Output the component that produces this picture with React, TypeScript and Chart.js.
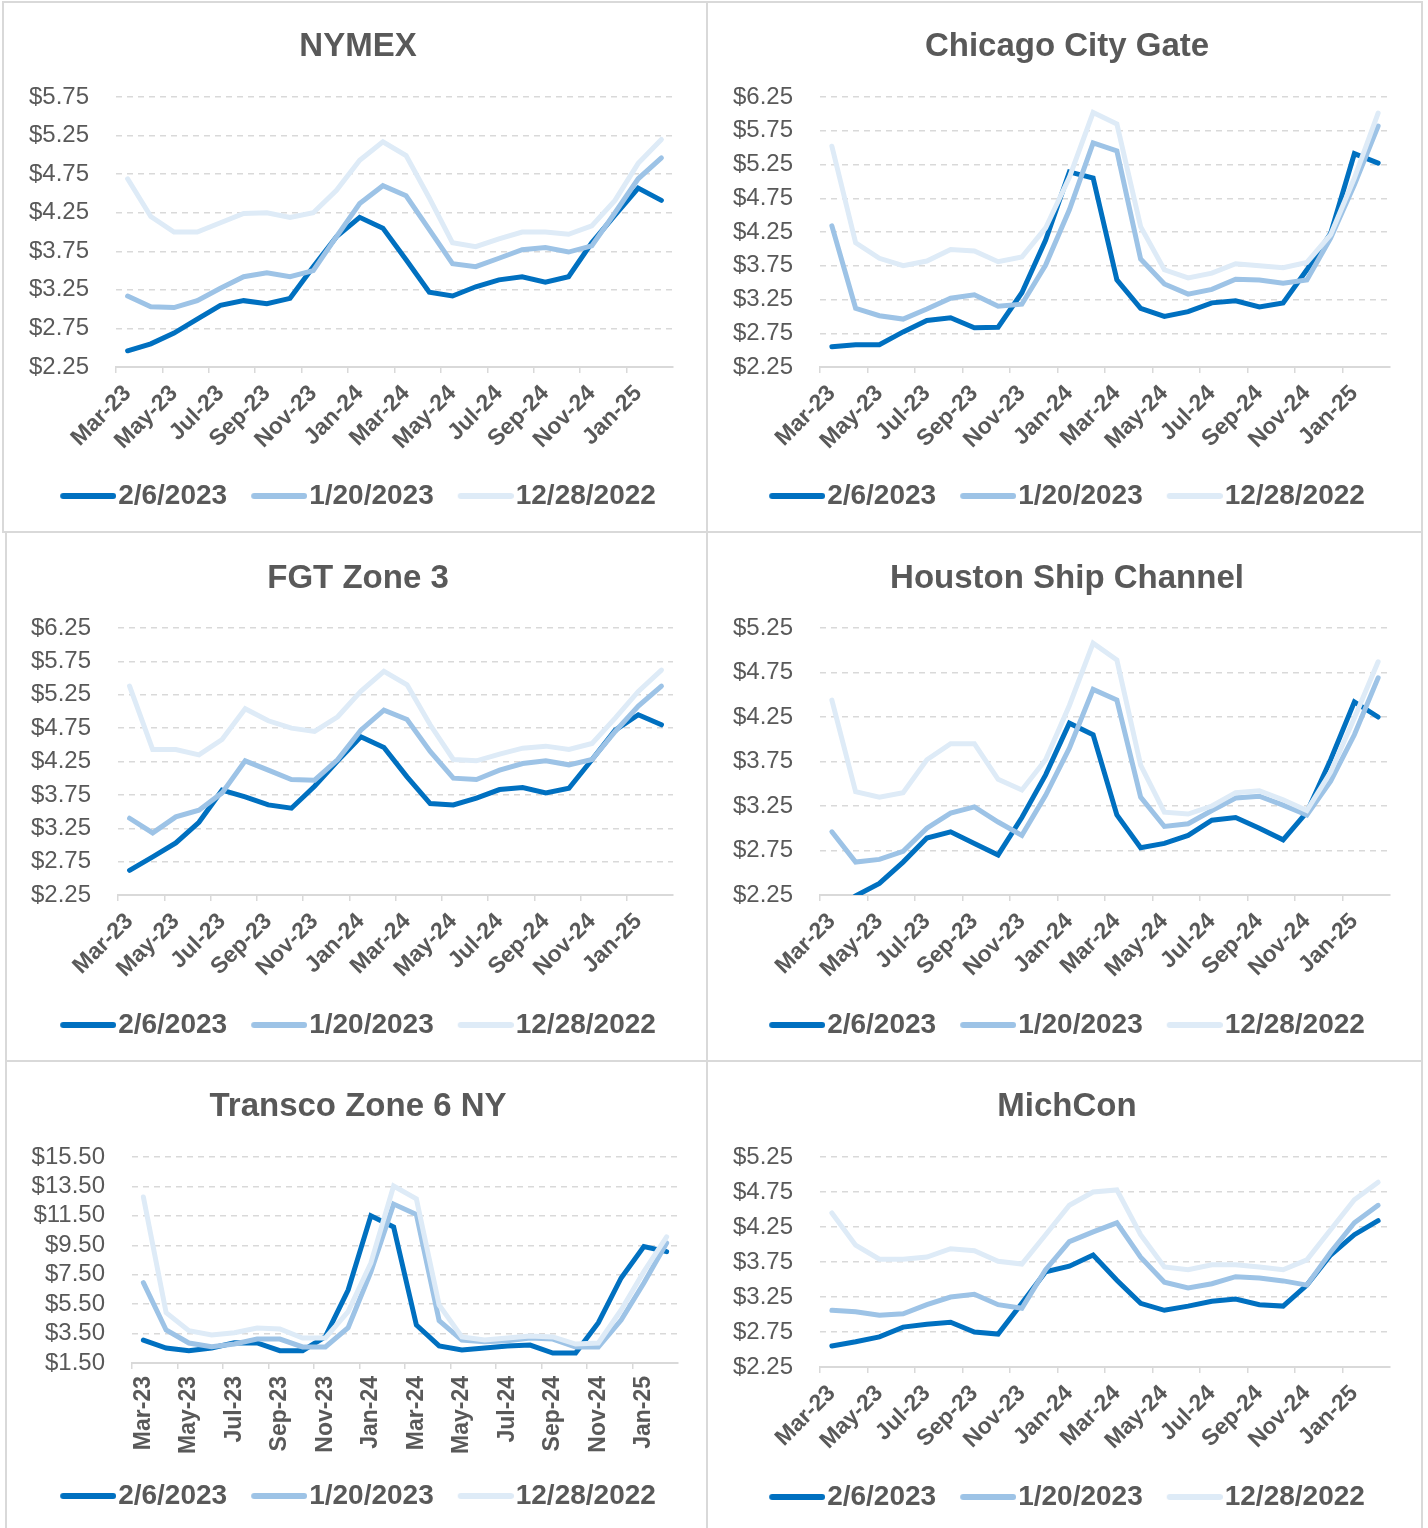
import React, { useEffect, useRef } from 'react';
import { Chart, registerables } from 'chart.js';

Chart.register(...registerables);

// ---------- data ----------
const months = [
  'Mar-23', 'Apr-23', 'May-23', 'Jun-23', 'Jul-23', 'Aug-23', 'Sep-23', 'Oct-23', 'Nov-23', 'Dec-23', 'Jan-24', 'Feb-24',
  'Mar-24', 'Apr-24', 'May-24', 'Jun-24', 'Jul-24', 'Aug-24', 'Sep-24', 'Oct-24', 'Nov-24', 'Dec-24', 'Jan-25', 'Feb-25',
];
const seriesNames = ['2/6/2023', '1/20/2023', '12/28/2022'];
const seriesColors = ['#0070C0', '#9DC3E6', '#DEEBF7'];

const nymexFeb6 = [2.46, 2.55, 2.69, 2.87, 3.05, 3.11, 3.07, 3.14, 3.55, 3.94, 4.19, 4.05, 3.64, 3.22, 3.17, 3.29, 3.38, 3.42, 3.35, 3.42, 3.86, 4.22, 4.57, 4.41];
const nymexJan20 = [3.17, 3.03, 3.02, 3.11, 3.27, 3.42, 3.47, 3.42, 3.5, 3.94, 4.37, 4.6, 4.47, 4.03, 3.59, 3.55, 3.66, 3.77, 3.8, 3.74, 3.82, 4.25, 4.69, 4.96];
const nymexDec28 = [4.69, 4.2, 4.0, 4.0, 4.12, 4.24, 4.25, 4.19, 4.25, 4.54, 4.93, 5.17, 4.99, 4.44, 3.86, 3.81, 3.91, 4.0, 4.0, 3.97, 4.08, 4.41, 4.89, 5.2];
const nymexTicks = [2.25, 2.75, 3.25, 3.75, 4.25, 4.75, 5.25, 5.75];

const chiFeb6 = [2.55, 2.58, 2.58, 2.77, 2.94, 2.98, 2.83, 2.84, 3.35, 4.13, 5.14, 5.05, 3.54, 3.12, 3.0, 3.07, 3.2, 3.23, 3.14, 3.2, 3.69, 4.23, 5.41, 5.27];
const chiJan20 = [4.34, 3.12, 3.01, 2.96, 3.11, 3.27, 3.32, 3.15, 3.18, 3.76, 4.58, 5.57, 5.45, 3.85, 3.48, 3.33, 3.4, 3.55, 3.54, 3.49, 3.54, 4.16, 4.95, 5.82];
const chiDec28 = [5.52, 4.09, 3.86, 3.75, 3.82, 3.99, 3.97, 3.81, 3.88, 4.31, 5.06, 6.02, 5.85, 4.33, 3.69, 3.57, 3.64, 3.78, 3.75, 3.72, 3.8, 4.21, 5.05, 6.01];
const chiTicks = [2.25, 2.75, 3.25, 3.75, 4.25, 4.75, 5.25, 5.75, 6.25];

const fgtFeb6 = [2.62, 2.82, 3.03, 3.34, 3.82, 3.72, 3.6, 3.55, 3.88, 4.26, 4.62, 4.46, 4.02, 3.62, 3.6, 3.7, 3.83, 3.86, 3.78, 3.85, 4.28, 4.72, 4.95, 4.8];
const fgtJan20 = [3.4, 3.18, 3.42, 3.52, 3.78, 4.26, 4.12, 3.98, 3.97, 4.28, 4.72, 5.02, 4.88, 4.4, 4.0, 3.98, 4.12, 4.22, 4.26, 4.2, 4.28, 4.7, 5.08, 5.38];
const fgtDec28 = [5.38, 4.43, 4.43, 4.35, 4.58, 5.04, 4.86, 4.75, 4.7, 4.92, 5.3, 5.6, 5.4, 4.8, 4.28, 4.26, 4.36, 4.45, 4.48, 4.43, 4.52, 4.9, 5.3, 5.62];
const fgtTicks = [2.25, 2.75, 3.25, 3.75, 4.25, 4.75, 5.25, 5.75, 6.25];

const hscFeb6 = [2.05, 2.24, 2.38, 2.62, 2.89, 2.96, 2.83, 2.7, 3.12, 3.6, 4.18, 4.05, 3.15, 2.78, 2.83, 2.92, 3.09, 3.12, 3.0, 2.87, 3.18, 3.77, 4.42, 4.25];
const hscJan20 = [2.96, 2.62, 2.65, 2.74, 3.0, 3.17, 3.24, 3.07, 2.92, 3.37, 3.9, 4.56, 4.44, 3.35, 3.02, 3.05, 3.2, 3.34, 3.36, 3.26, 3.15, 3.53, 4.05, 4.69];
const hscDec28 = [4.44, 3.41, 3.35, 3.4, 3.77, 3.95, 3.95, 3.55, 3.43, 3.77, 4.38, 5.08, 4.89, 3.71, 3.18, 3.16, 3.25, 3.4, 3.42, 3.32, 3.2, 3.63, 4.24, 4.87];
const hscTicks = [2.25, 2.75, 3.25, 3.75, 4.25, 4.75, 5.25];

const tz6Feb6 = [3.06, 2.52, 2.34, 2.52, 2.88, 2.86, 2.34, 2.34, 3.29, 6.46, 11.5, 10.75, 4.08, 2.66, 2.38, 2.52, 2.66, 2.72, 2.18, 2.18, 4.24, 7.28, 9.41, 9.07];
const tz6Jan20 = [6.96, 3.74, 2.86, 2.61, 2.79, 3.13, 3.13, 2.59, 2.59, 3.9, 7.7, 12.3, 11.6, 4.38, 3.06, 2.95, 3.02, 3.2, 3.13, 2.59, 2.59, 4.42, 6.94, 9.66];
const tz6Dec28 = [12.78, 4.92, 3.7, 3.4, 3.56, 3.88, 3.81, 3.2, 3.2, 4.99, 8.3, 13.53, 12.65, 5.44, 3.27, 3.06, 3.2, 3.34, 3.27, 2.79, 2.86, 5.1, 7.71, 10.07];
const tz6Ticks = [1.5, 3.5, 5.5, 7.5, 9.5, 11.5, 13.5, 15.5];

const michFeb6 = [2.55, 2.61, 2.68, 2.82, 2.86, 2.89, 2.75, 2.72, 3.16, 3.61, 3.69, 3.85, 3.49, 3.16, 3.06, 3.12, 3.19, 3.22, 3.14, 3.12, 3.42, 3.85, 4.14, 4.34];
const michJan20 = [3.06, 3.04, 2.99, 3.01, 3.14, 3.25, 3.29, 3.14, 3.09, 3.64, 4.04, 4.18, 4.31, 3.82, 3.46, 3.38, 3.44, 3.54, 3.52, 3.48, 3.42, 3.89, 4.31, 4.56];
const michDec28 = [4.45, 3.99, 3.79, 3.79, 3.82, 3.94, 3.91, 3.76, 3.72, 4.14, 4.56, 4.75, 4.78, 4.14, 3.68, 3.64, 3.71, 3.71, 3.68, 3.64, 3.78, 4.21, 4.64, 4.89];
const michTicks = [2.25, 2.75, 3.25, 3.75, 4.25, 4.75, 5.25];

// ---------- layout / style ----------
const FONT = "'Liberation Sans', Arial, sans-serif";
const TEXT = '#595959';
const GRID = '#d9d9d9';
const TITLE_SIZE = 33;
const YTICK_SIZE = 24;
const XTICK_SIZE = 23;
const XTICK_PAD = 7;
const LEG_SIZE = 28;
const LEG_PAD = 24;
const LEG_BOX = 44;
const LINE_W = 5;

type PanelDef = {
  title: string;
  series: number[][];
  ticks: number[];
  rot: number;
  box: { x: number; y: number; w: number; h: number };
  area: { l: number; t: number; r: number; b: number };
  titleY: number;
  legendY: number;
};

const panels: PanelDef[] = [
  { title: 'NYMEX', series: [nymexFeb6, nymexJan20, nymexDec28], ticks: nymexTicks, rot: 45,
    box: { x: 0, y: 2, w: 716, h: 530 }, area: { l: 116, t: 97, r: 673, b: 367 }, titleY: 47, legendY: 496 },
  { title: 'Chicago City Gate', series: [chiFeb6, chiJan20, chiDec28], ticks: chiTicks, rot: 45,
    box: { x: 708, y: 2, w: 718, h: 530 }, area: { l: 820, t: 97, r: 1390, b: 367 }, titleY: 47, legendY: 496 },
  { title: 'FGT Zone 3', series: [fgtFeb6, fgtJan20, fgtDec28], ticks: fgtTicks, rot: 45,
    box: { x: 0, y: 533, w: 716, h: 528 }, area: { l: 118, t: 628, r: 673, b: 895 }, titleY: 579, legendY: 1025 },
  { title: 'Houston Ship Channel', series: [hscFeb6, hscJan20, hscDec28], ticks: hscTicks, rot: 45,
    box: { x: 708, y: 533, w: 718, h: 528 }, area: { l: 820, t: 628, r: 1390, b: 895 }, titleY: 579, legendY: 1025 },
  { title: 'Transco Zone 6 NY', series: [tz6Feb6, tz6Jan20, tz6Dec28], ticks: tz6Ticks, rot: 90,
    box: { x: 0, y: 1062, w: 716, h: 466 }, area: { l: 132, t: 1157, r: 678, b: 1363 }, titleY: 1107, legendY: 1496 },
  { title: 'MichCon', series: [michFeb6, michJan20, michDec28], ticks: michTicks, rot: 45,
    box: { x: 708, y: 1062, w: 718, h: 466 }, area: { l: 820, t: 1157, r: 1390, b: 1367 }, titleY: 1107, legendY: 1497 },
];

function makeLegendLine(color: string): HTMLCanvasElement {
  const c = document.createElement('canvas');
  c.width = 68;
  c.height = 10;
  const g = c.getContext('2d')!;
  g.strokeStyle = color;
  g.lineWidth = 6;
  g.lineCap = 'round';
  g.beginPath();
  g.moveTo(15, 5);
  g.lineTo(65, 5);
  g.stroke();
  return c;
}

function Panel({ def }: { def: PanelDef }) {
  const ref = useRef<HTMLCanvasElement | null>(null);
  useEffect(() => {
    if (!ref.current) return;
    const { box, area } = def;
    const H = box.h;
    const yWidth = area.l - box.x;
    const rightWidth = box.x + box.w - area.r;
    const tLH = TITLE_SIZE * 1.2;
    const tTop = def.titleY - box.y - tLH / 2;
    const tBot = area.t - box.y - tLH - tTop;
    const legTop = def.legendY - box.y - (LEG_PAD + LEG_SIZE / 2);
    const legH = LEG_SIZE + LEG_PAD + 10;
    const padB = H - legTop - legH;
    const xHeight = legTop - (area.b - box.y);
    const imgs = seriesColors.map(makeLegendLine);
    const ticks = def.ticks;

    const chart = new Chart(ref.current, {
      type: 'line',
      data: {
        labels: months,
        datasets: def.series.map((d, i) => ({
          label: seriesNames[i],
          data: d,
          yAxisID: 'y',
          borderColor: seriesColors[i],
          backgroundColor: seriesColors[i],
          borderWidth: LINE_W,
          pointRadius: 0,
          pointHoverRadius: 0,
          tension: 0,
          borderCapStyle: 'round' as const,
          borderJoinStyle: 'miter' as const,
          order: 3 - i,
        })),
      },
      options: {
        responsive: false,
        animation: false,
        events: [],
        layout: { padding: { left: 0, right: 0, top: 0, bottom: padB } },
        scales: {
          x: {
            offset: true,
            grid: {
              offset: true,
              drawOnChartArea: false,
              drawTicks: true,
              tickLength: 6,
              lineWidth: 1.5,
              color: (ctx: any) => (ctx.index % 2 === 0 ? GRID : 'rgba(0,0,0,0)'),
            },
            border: { display: true, color: GRID, width: 2 },
            ticks: {
              autoSkip: false,
              minRotation: def.rot,
              maxRotation: def.rot,
              padding: XTICK_PAD,
              color: TEXT,
              font: { family: FONT, size: XTICK_SIZE, weight: 'bold' },
              callback: (_v: any, idx: number) => (idx % 2 === 0 ? months[idx] : ''),
            },
            afterFit: (s: any) => { s.height = xHeight; },
          },
          y: {
            position: 'left',
            min: ticks[0],
            max: ticks[ticks.length - 1],
            grid: { color: GRID, lineWidth: 1.5, drawTicks: false },
            border: { display: false, dash: [6, 5] },
            ticks: {
              count: ticks.length,
              autoSkip: false,
              padding: 27,
              color: TEXT,
              font: { family: FONT, size: YTICK_SIZE },
              callback: (v: any) => '$' + Number(v).toFixed(2),
            },
            afterFit: (s: any) => { s.width = yWidth; },
          },
          yR: {
            type: 'linear',
            position: 'right',
            display: true,
            grid: { display: false, drawTicks: false },
            border: { display: false },
            ticks: { display: false },
            afterFit: (s: any) => { s.width = rightWidth; },
          },
        },
        plugins: {
          tooltip: { enabled: false },
          title: {
            display: true,
            text: def.title,
            color: TEXT,
            font: { family: FONT, size: TITLE_SIZE, weight: 'bold', lineHeight: 1.2 },
            padding: { top: tTop, bottom: tBot },
          },
          legend: {
            display: true,
            position: 'bottom',
            labels: {
              usePointStyle: true,
              pointStyleWidth: LEG_BOX,
              boxHeight: 6,
              padding: LEG_PAD,
              color: TEXT,
              font: { family: FONT, size: LEG_SIZE, weight: 'bold' },
              sort: (a: any, b: any) => a.datasetIndex - b.datasetIndex,
              generateLabels: (c: any) => {
                const items = (Chart.defaults.plugins.legend.labels as any).generateLabels(c);
                items.forEach((it: any) => {
                  it.pointStyle = imgs[it.datasetIndex];
                  it.rotation = 0;
                });
                return items;
              },
            },
          },
        },
      } as any,
    });
    return () => chart.destroy();
  }, [def]);

  return (
    <canvas
      ref={ref}
      width={def.box.w}
      height={def.box.h}
      style={{ position: 'absolute', left: def.box.x, top: def.box.y, width: def.box.w, height: def.box.h }}
    />
  );
}

const lineStyle = (l: number, t: number, w: number, h: number): React.CSSProperties => ({
  position: 'absolute', left: l, top: t, width: w, height: h, background: GRID,
});

export default function App() {
  return (
    <div style={{ position: 'absolute', left: 0, top: 0, width: 1428, height: 1528, background: '#fff', overflow: 'hidden' }}>
      <div style={lineStyle(2, 1, 1421, 2)} />
      <div style={lineStyle(2, 1, 2, 531)} />
      <div style={lineStyle(5, 531, 2, 997)} />
      <div style={lineStyle(706, 1, 2, 1527)} />
      <div style={lineStyle(1421, 1, 2, 1527)} />
      <div style={lineStyle(2, 531, 1421, 2)} />
      <div style={lineStyle(5, 1060, 1418, 2)} />
      {panels.map((p) => (
        <Panel key={p.title} def={p} />
      ))}
    </div>
  );
}
